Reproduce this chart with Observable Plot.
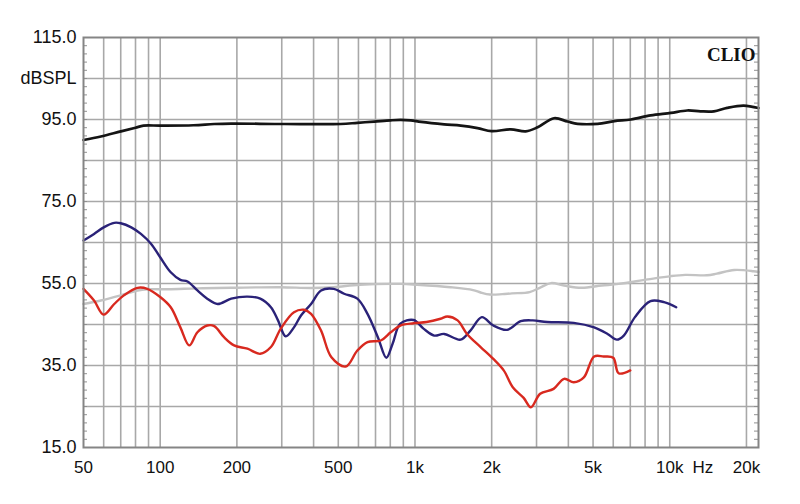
<!DOCTYPE html>
<html>
<head>
<meta charset="utf-8">
<script src="https://cdn.jsdelivr.net/npm/d3@7"></script>
<script src="https://cdn.jsdelivr.net/npm/@observablehq/plot@0.6"></script>
<style>
  html, body { margin: 0; padding: 0; background: #fff; }
  #chart { width: 800px; height: 504px; }
</style>
</head>
<body>
<div id="chart"></div>
<script>
// ---- Data ----
const blackFreq = [50, 58.5, 70, 80, 86, 100, 135, 163, 190, 307, 511, 594, 693, 803, 876, 962, 1057, 1302, 1513, 1760, 2000, 2376, 2722, 3030, 3515, 3970, 4352, 5210, 6065, 7040, 8415, 10100, 11700, 13200, 14900, 16800, 19500, 22300];
const blackDb   = [90.0, 90.85, 92.1, 93.0, 93.5, 93.5, 93.6, 93.9, 94.0, 93.9, 93.9, 94.2, 94.5, 94.8, 94.9, 94.8, 94.4, 93.8, 93.5, 92.9, 92.15, 92.6, 92.1, 93.1, 95.3, 94.5, 93.95, 93.95, 94.6, 95.0, 96.0, 96.6, 97.2, 97.0, 97.0, 97.85, 98.4, 97.8];

const grayFreq = [50, 58.5, 70, 81.5, 89, 107, 140, 190, 297, 391, 480, 607, 876, 1020, 1380, 1690, 1810, 1970, 2200, 2400, 2820, 3100, 3420, 3850, 4500, 5400, 6300, 8200, 10100, 11500, 14000, 15300, 17900, 21300, 22300];
const grayDb   = [50.0, 50.85, 52.1, 53.3, 53.6, 53.6, 53.8, 53.95, 54.1, 53.9, 54.1, 54.7, 54.9, 54.7, 54.1, 53.4, 52.8, 52.3, 52.4, 52.6, 52.9, 54.0, 55.1, 54.5, 53.95, 54.5, 54.9, 56.0, 56.8, 57.1, 57.0, 57.4, 58.3, 58.0, 57.8];

const navyFreq = [50, 55, 60, 66, 70, 77, 84, 92, 100, 110, 120, 128, 140, 153, 168, 190, 220, 247, 272, 290, 311, 335, 357, 391, 428, 480, 527, 594, 651, 715, 772, 817, 876, 988, 1080, 1190, 1300, 1510, 1650, 1830, 2030, 2300, 2600, 2900, 3300, 4200, 5050, 5700, 6200, 6600, 7300, 8400, 9500, 10600];
const navyDb   = [65.5, 67.1, 68.7, 69.8, 69.7, 68.7, 67.1, 64.7, 61.4, 57.75, 55.9, 55.5, 53.3, 51.3, 50.0, 51.3, 51.8, 51.3, 49.2, 46.0, 42.1, 44.3, 47.2, 50.0, 53.3, 53.7, 52.5, 51.3, 47.6, 41.9, 36.9, 40.3, 45.2, 46.1, 44.0, 42.3, 42.7, 41.3, 43.5, 46.8, 44.75, 43.7, 45.8, 46.0, 45.6, 45.4, 44.3, 42.7, 41.3, 42.3, 46.8, 50.7, 50.45, 49.2];

const redFreq = [50, 55, 60, 66, 72, 81.5, 89, 100, 110, 120, 130, 140, 153, 163, 178, 195, 220, 247, 272, 297, 335, 367, 391, 428, 470, 535, 594, 651, 734, 803, 876, 988, 1110, 1260, 1340, 1470, 1600, 1810, 2030, 2230, 2420, 2670, 2850, 3100, 3500, 3850, 4200, 4600, 5050, 5500, 6000, 6300, 7000];
const redDb   = [53.7, 50.85, 47.4, 50.0, 52.1, 53.95, 53.7, 51.7, 49.2, 44.3, 39.9, 43.1, 44.75, 44.6, 41.9, 39.9, 39.1, 37.85, 39.5, 43.95, 48.0, 48.6, 47.6, 43.5, 37.0, 34.75, 38.65, 40.7, 41.1, 43.1, 44.75, 45.3, 45.6, 46.4, 46.95, 46.0, 42.7, 39.5, 36.6, 33.8, 29.7, 27.1, 24.8, 28.1, 29.3, 31.75, 30.9, 32.1, 37.2, 37.2, 36.9, 33.1, 33.8];

// ---- Axis / grid values ----
const xDomain = [50, 22300];
const yDomain = [15, 115];
const xGrid = [60, 70, 80, 90, 100, 200, 300, 400, 500, 600, 700, 800, 900, 1000, 2000, 3000, 4000, 5000, 6000, 7000, 8000, 9000, 10000, 20000];
const yGrid = [25, 35, 45, 55, 65, 75, 85, 95, 105];
const yMinor = [17, 19, 21, 23, 25, 27, 29, 31, 33, 35, 37, 39, 41, 43, 45, 47, 49, 51, 53, 55, 57, 59, 61, 63, 65, 67, 69, 71, 73, 75, 77, 79, 81, 83, 85, 87, 89, 91, 93, 95, 97, 99, 101, 103, 105, 107, 109, 111, 113];
const xTicks = [50, 100, 200, 500, 1000, 2000, 5000, 10000, 20000];
const xTickLabels = ["50", "100", "200", "500", "1k", "2k", "5k", "10k", "20k"];
const yTicks = [15, 35, 55, 75, 95, 115];
const yTickLabels = ["15.0", "35.0", "55.0", "75.0", "95.0", "115.0"];
const yUnit = {value: 105, label: "dBSPL"};
const xUnit = {value: 13500, label: "Hz"};
const brand = "CLIO";

const toRows = (fs, vs) => fs.map((f, i) => ({f, v: vs[i]}));
const series = [
  {rows: toRows(grayFreq, grayDb), color: "#c3c3c3"},
  {rows: toRows(navyFreq, navyDb), color: "#2a2278"},
  {rows: toRows(redFreq, redDb), color: "#d8291f"},
  {rows: toRows(blackFreq, blackDb), color: "#141414"}
];
const xLabelRows = xTicks.map((value, i) => ({value, label: xTickLabels[i]})).concat([xUnit]);
const yLabelRows = yTicks.map((value, i) => ({value, label: yTickLabels[i]})).concat([yUnit]);

const font = "'Liberation Sans', Arial, sans-serif";
const W = 800, H = 504;
const mL = 83, mR = 42, mT = 37, mB = 57;
const frameW = W - mL - mR;

const marks = [
  Plot.ruleX(xGrid, {x: d => d, stroke: "#a8a8a8", strokeWidth: 1.6}),
  Plot.ruleY(yGrid, {y: d => d, stroke: "#a8a8a8", strokeWidth: 1.6}),
  Plot.tickY(yMinor, {y: d => d, stroke: "#909090", strokeWidth: 1, insetRight: frameW - 4}),
  Plot.tickY(yMinor, {y: d => d, stroke: "#909090", strokeWidth: 1, insetLeft: frameW - 4}),
  ...series.map(s => Plot.line(s.rows, {x: "f", y: "v", stroke: s.color, strokeWidth: s.color === "#141414" ? 2.7 : 2.4, curve: "catmull-rom"})),
  Plot.frame({stroke: "#858585", strokeWidth: 2}),
  Plot.text(xLabelRows, {x: "value", text: "label", frameAnchor: "bottom", lineAnchor: "top", dy: 13, fontSize: 17, fill: "#111"}),
  Plot.text(yLabelRows, {y: "value", text: "label", frameAnchor: "left", dx: -7, textAnchor: "end", fontSize: 18, fill: "#111"}),
  Plot.text([brand], {text: d => d, frameAnchor: "top-right", dx: -3, dy: 10, fontSize: 19, fontWeight: "bold", fontFamily: "'Liberation Serif', 'Times New Roman', serif", fill: "#111"})
];

const chart = Plot.plot({
  width: W,
  height: H,
  marginLeft: mL,
  marginRight: mR,
  marginTop: mT,
  marginBottom: mB,
  style: {fontFamily: font, background: "#fff", overflow: "visible"},
  x: {type: "log", domain: xDomain, axis: null},
  y: {domain: yDomain, axis: null},
  marks
});
document.getElementById("chart").appendChild(chart);
</script>
</body>
</html>
